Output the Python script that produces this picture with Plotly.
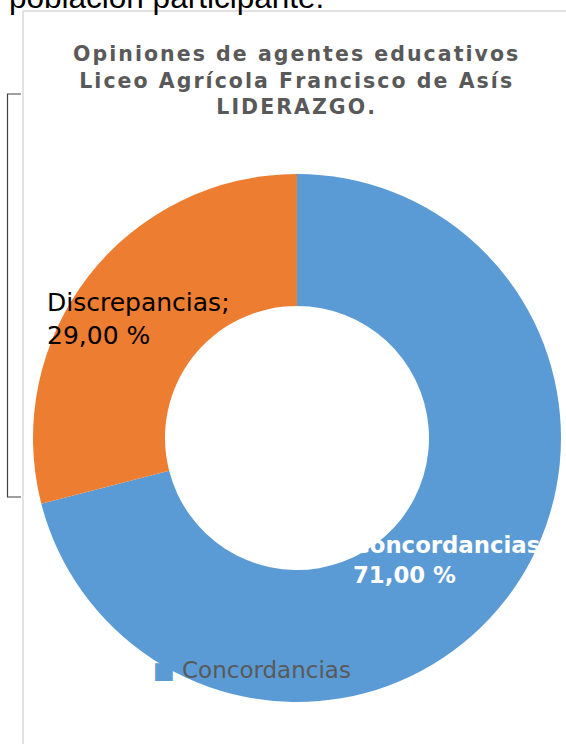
import plotly.graph_objects as go

labels = ["Concordancias", "Discrepancias"]
values = [71.0, 29.0]
colors = ["#5B9BD5", "#ED7D31"]
title_lines = ["Opiniones de agentes educativos", "Liceo Agrícola Francisco de Asís", "LIDERAZGO."]
top_text = "población participante."

W, H = 566, 744
def px(x): return x / W
def py(y): return 1 - y / H

def spaced(s):
    return "\u200a".join(list(s))

fig = go.Figure()
fig.add_trace(go.Pie(
    labels=labels, values=values, hole=0.5, sort=False, direction="clockwise", rotation=0,
    marker=dict(colors=colors, line=dict(width=0)),
    textinfo="none", hoverinfo="label+percent", showlegend=False,
    domain=dict(x=[px(33), px(561)], y=[py(702), py(174)]),
))

def fmt(v):
    return f"{v:.2f}".replace(".", ",") + " %"

ann = []
ann.append(dict(x=px(7), y=py(17), xref="paper", yref="paper", xanchor="left", yanchor="bottom",
                text=top_text, showarrow=False, font=dict(family="Liberation Sans", size=31.5, color="#000000")))
ann.append(dict(x=px(295), y=py(40), xref="paper", yref="paper", xanchor="center", yanchor="top",
                text="<br>".join(f"<b>{spaced(t)}</b>" for t in title_lines), showarrow=False,
                font=dict(family="DejaVu Sans", size=20.5, color="#595959"), align="center"))
ann.append(dict(x=px(351), y=py(530), xref="paper", yref="paper", xanchor="left", yanchor="top",
                text=f"<b>{labels[0]};<br>{fmt(values[0])}</b>", showarrow=False, align="left",
                font=dict(family="DejaVu Sans", size=22.8, color="#FFFFFF")))
ann.append(dict(x=px(45), y=py(286), xref="paper", yref="paper", xanchor="left", yanchor="top",
                text=f"{labels[1]};<br>{fmt(values[1])}", showarrow=False, align="left",
                font=dict(family="DejaVu Sans", size=25, color="#000000")))
ann.append(dict(x=px(151), y=py(670), xref="paper", yref="paper", xanchor="left", yanchor="middle",
                text=f"<span style='color:{colors[0]}'>■</span> {labels[0]}", showarrow=False,
                font=dict(family="DejaVu Sans", size=23, color="#595959")))

shapes = [
    dict(type="line", xref="paper", yref="paper", x0=px(23), x1=px(23), y0=py(11), y1=py(760),
         line=dict(color="#D9D9D9", width=1.5)),
    dict(type="line", xref="paper", yref="paper", x0=px(23), x1=px(580), y0=py(11), y1=py(11),
         line=dict(color="#D9D9D9", width=1.5)),
    dict(type="path", xref="paper", yref="paper",
         path=f"M {px(21)} {py(94)} L {px(7.5)} {py(94)} L {px(7.5)} {py(497)} L {px(21)} {py(497)}",
         line=dict(color="#404040", width=1.2)),
]

fig.update_layout(
    width=W, height=H, margin=dict(l=0, r=0, t=0, b=0),
    paper_bgcolor="#FFFFFF", plot_bgcolor="#FFFFFF",
    annotations=ann, shapes=shapes, showlegend=False,
)
fig.write_html("out.html", config={"displayModeBar": False},
               post_script="document.body.style.margin='0';document.body.style.overflow='hidden';")
